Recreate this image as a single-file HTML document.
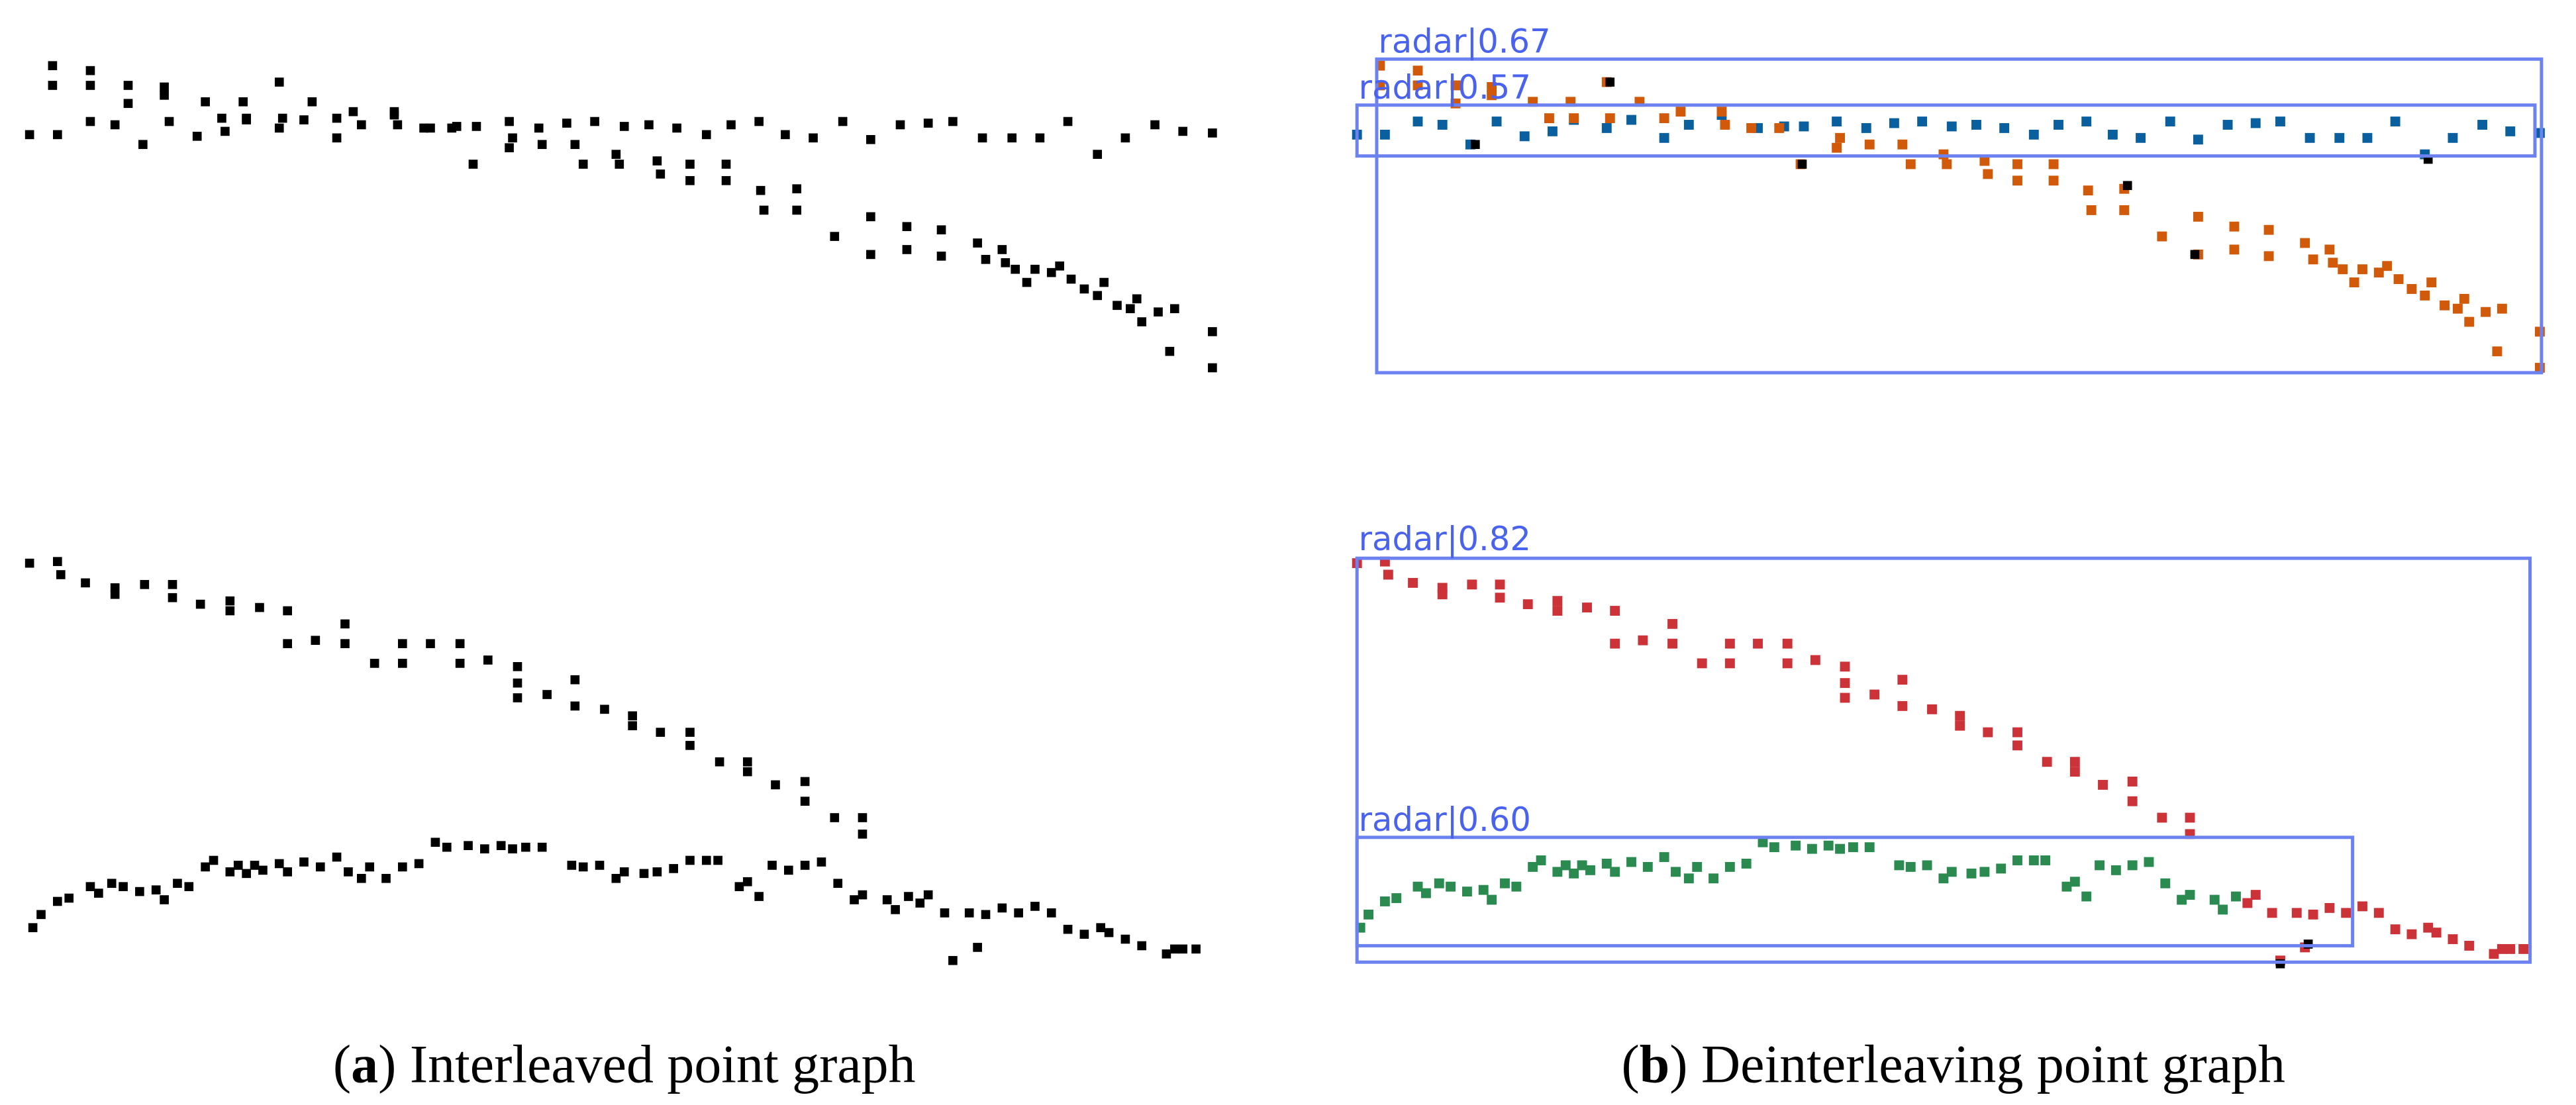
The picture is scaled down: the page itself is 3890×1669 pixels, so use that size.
<!DOCTYPE html>
<html><head><meta charset="utf-8"><style>html,body{margin:0;padding:0;background:#fff;}svg{display:block;}</style></head>
<body>
<svg id="s" width="3890" height="1669" viewBox="0 0 1568 673" preserveAspectRatio="none" xmlns="http://www.w3.org/2000/svg">
<rect width="1568" height="673" fill="#fff"/>
<g id="pts"></g>
<g fill="none" stroke="#6b82f0" stroke-width="2">
<rect x="838" y="36" width="709" height="191"/>
<rect x="826" y="64" width="717" height="31"/>
<rect x="826" y="340" width="714" height="246"/>
<rect x="826" y="510" width="606" height="66"/>
</g>
<g font-family="DejaVu Sans, sans-serif" font-size="20" fill="#4a63ee">
<text x="839" y="32">radar|0.67</text>
<text x="827" y="60">radar|0.57</text>
<text x="827" y="335">radar|0.82</text>
<text x="827" y="506">radar|0.60</text>
</g>
<g font-family="Liberation Serif, serif" font-size="33" fill="#000" text-anchor="middle">
<text x="380" y="659">(<tspan font-weight="bold">a</tspan>) Interleaved point graph</text>
<text x="1189" y="659">(<tspan font-weight="bold">b</tspan>) Deinterleaving point graph</text>
</g>
</svg>
<script>
var flat=[[18,82],[35,82],[55,74],[70,76],[87,88],[103,74],[120,83],[137,80],[150,73],[170,78],[185,73],[205,84],[220,76],[240,70],[262,78],[278,77],[290,77],[310,74],[328,78],[345,75],[362,74],[380,77],[395,76],[412,78],[430,82],[445,76],[462,74],[478,82],[495,84],[513,74],[530,85],[548,76],[565,75],[580,74],[598,84],[616,84],[633,84],[650,74],[668,94],[685,84],[703,76],[720,80],[738,81]];
var desc=[[32,40],[32,52],[55,43],[55,52],[78,52],[78,63],[100,53],[100,58],[125,62],[135,72],[148,62],[150,72],[170,50],[172,72],[190,62],[205,72],[215,68],[240,68],[242,76],[258,78],[275,78],[288,100],[310,90],[312,84],[330,88],[350,88],[355,100],[375,94],[377,100],[400,98],[402,106],[420,100],[420,110],[442,100],[442,110],[463,116],[465,128],[485,115],[485,128],[508,144],[530,132],[530,155],[552,138],[552,152],[573,140],[573,156],[595,148],[600,158],[610,152],[612,160],[618,164],[625,172],[630,164],[640,166],[645,162],[652,170],[660,176],[668,180],[672,172],[680,186],[688,188],[692,182],[695,196],[705,190],[712,214],[715,188],[738,202],[738,224]];
var desc2=[[18,343],[35,342],[37,350],[52,355],[70,358],[70,362],[88,356],[105,356],[105,364],[122,368],[140,366],[140,372],[158,370],[175,372],[175,392],[192,390],[210,380],[210,392],[228,404],[245,392],[245,404],[262,392],[280,392],[280,404],[297,402],[315,406],[315,416],[315,425],[333,423],[350,414],[350,430],[368,432],[385,436],[385,442],[402,446],[420,446],[420,454],[438,464],[455,464],[455,470],[472,478],[490,476],[490,488],[508,498],[525,498],[525,508]];
var arc=[[20,565],[25,557],[35,549],[42,547],[55,540],[60,544],[68,538],[75,540],[85,543],[95,542],[100,548],[108,538],[115,540],[125,528],[130,524],[140,531],[145,527],[150,532],[155,527],[160,530],[170,526],[175,531],[185,525],[195,528],[205,522],[212,531],[220,535],[225,528],[235,535],[245,528],[255,526],[265,513],[272,516],[285,515],[295,517],[305,515],[312,517],[320,516],[330,516],[348,527],[355,528],[365,527],[375,535],[380,531],[392,532],[400,531],[410,529],[420,524],[430,524],[437,524],[450,540],[455,537],[462,546],[470,527],[480,530],[490,527],[500,525],[510,538],[520,548],[525,545],[540,548],[545,554],[553,546],[560,550],[565,545],[575,556],[580,585],[590,556],[595,577],[600,557],[610,553],[620,556],[630,552],[640,556],[650,566],[660,569],[670,565],[675,568],[685,572],[695,576],[710,581],[720,578],[728,578],[715,578]];
var g=document.getElementById('pts'),h='';
function sq(x,y,c,s){h+='<rect x="'+(x-s/2)+'" y="'+(y-s/2)+'" width="'+s+'" height="'+s+'" fill="'+c+'"/>';}
[flat,desc,desc2,arc].forEach(function(a){a.forEach(function(p){sq(p[0],p[1],'#000',5.5);});});
var O=808;
flat.forEach(function(p){sq(p[0]+O,p[1],'#0a5f9e',6);});
desc.forEach(function(p){sq(p[0]+O,p[1],'#d05a0a',6);});
desc2.forEach(function(p){sq(p[0]+O,p[1],'#cc3338',6);});
arc.forEach(function(p){sq(p[0]+O,p[1],p[0]<555?'#2a8a50':'#cc3338',6);});
[[898,88],[980,50],[1097,100],[1295,113],[1336,155],[1478,97],[1388,587],[1405,575]].forEach(function(p){sq(p[0],p[1],'#000',5.5);});
g.innerHTML=h;
</script>
</body></html>
